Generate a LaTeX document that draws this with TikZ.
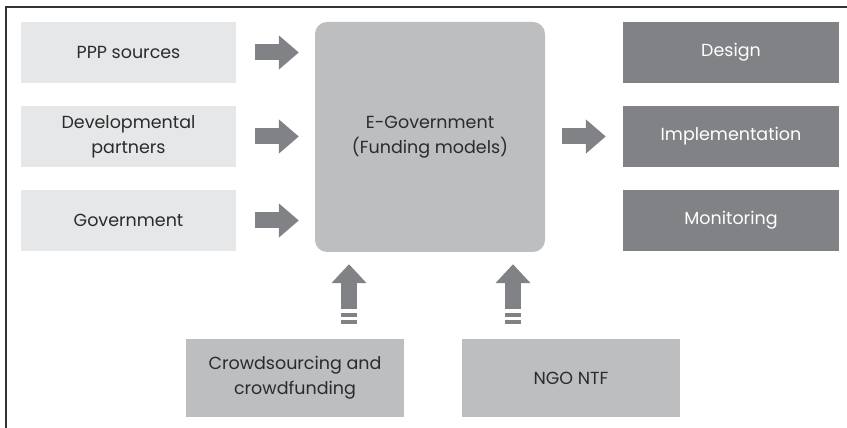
\documentclass[tikz,border=0pt]{standalone}
\usepackage{fontspec}
\setmainfont{Poppins}
\usetikzlibrary{arrows.meta}
\definecolor{lightbox}{HTML}{E6E7E8}
\definecolor{midbox}{HTML}{BCBEC0}
\definecolor{darkbox}{HTML}{808285}
\definecolor{arrowgray}{HTML}{808285}
\definecolor{txt}{HTML}{2B2B2B}
\definecolor{framecol}{HTML}{333333}
\tikzset{
  base/.style={rectangle, inner sep=0pt, align=center, font=\fontsize{17.5pt}{25pt}\selectfont},
  srcbox/.style={base, fill=lightbox, text=txt, minimum width=215pt, minimum height=61pt},
  outbox/.style={base, fill=darkbox, text=white, minimum width=216pt, minimum height=61pt},
  botbox/.style={base, fill=midbox, text=txt, minimum width=218pt, minimum height=78pt},
  hubbox/.style={base, fill=midbox, text=txt, minimum width=230pt, minimum height=230pt, rounded corners=12pt},
  fatarrow/.style={draw=arrowgray, line width=16pt, -{Triangle[length=20pt,width=33pt]}},
  upfat/.style={draw=arrowgray, line width=16pt, -{Triangle[length=19pt,width=34pt]}},
  barstyle/.style={fill=arrowgray, draw=none}
}
\begin{document}
\begin{tikzpicture}[x=1pt,y=1pt]
\useasboundingbox (0,0) rectangle (847,428);
\draw[framecol, line width=1.3pt] (6,0) -- (6,421) -- (847,421);

\node[srcbox] (ppp) at (128.5,375.5) {PPP sources};
\node[srcbox] (dev) at (128.5,291.5) {Developmental\\partners};
\node[srcbox] (gov) at (128.5,207.5) {Government};

\node[hubbox] (hub) at (430,291) {E-Government\\(Funding models)};

\node[outbox] (des) at (731,375.5) {Design};
\node[outbox] (imp) at (731,291.5) {Implementation};
\node[outbox] (mon) at (731,207.5) {Monitoring};

\node[botbox] (crowd) at (295,50) {Crowdsourcing and\\crowdfunding};
\node[botbox] (ngo) at (571,50) {NGO NTF};

\draw[fatarrow] ([xshift=19pt]ppp.east) -- ([xshift=-16pt]hub.west |- ppp.east);
\draw[fatarrow] ([xshift=19pt]dev.east) -- ([xshift=-16pt]hub.west |- dev.east);
\draw[fatarrow] ([xshift=19pt]gov.east) -- ([xshift=-16pt]hub.west |- gov.east);
\draw[fatarrow] ([xshift=17pt]hub.east |- imp.west) -- ([xshift=-17pt]imp.west);

\coordinate (c1) at (349,119);
\coordinate (c2) at (513,119);
\draw[upfat] (c1) -- ([yshift=-12pt]c1 |- hub.south);
\draw[upfat] (c2) -- ([yshift=-12pt]c2 |- hub.south);
\fill[barstyle] (341,111) rectangle (357,115);
\fill[barstyle] (341,104) rectangle (357,108);
\fill[barstyle] (505,111) rectangle (521,115);
\fill[barstyle] (505,104) rectangle (521,108);
\end{tikzpicture}
\end{document}
